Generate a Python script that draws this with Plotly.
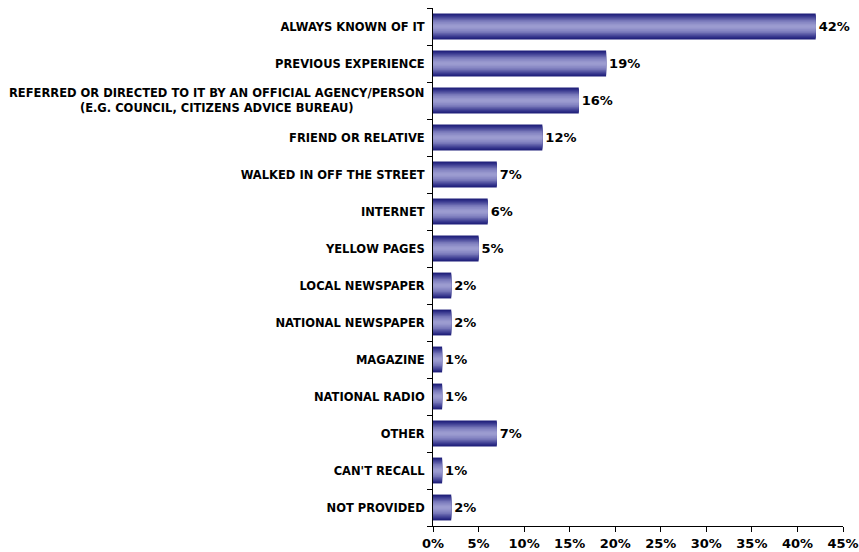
import plotly.graph_objects as go

# How respondents first heard of the service (% of respondents)
categories = [
    "ALWAYS KNOWN OF IT",
    "PREVIOUS EXPERIENCE",
    "REFERRED OR DIRECTED TO IT BY AN OFFICIAL AGENCY/PERSON<br>(E.G. COUNCIL, CITIZENS ADVICE BUREAU)",
    "FRIEND OR RELATIVE",
    "WALKED IN OFF THE STREET",
    "INTERNET",
    "YELLOW PAGES",
    "LOCAL NEWSPAPER",
    "NATIONAL NEWSPAPER",
    "MAGAZINE",
    "NATIONAL RADIO",
    "OTHER",
    "CAN'T RECALL",
    "NOT PROVIDED",
]
values = [42, 19, 16, 12, 7, 6, 5, 2, 2, 1, 1, 7, 1, 2]
x_ticks = [0, 5, 10, 15, 20, 25, 30, 35, 40, 45]

FONT = "DejaVu Sans, Verdana, sans-serif"
LABEL_SIZE = 11.5

# Concentric bands of decreasing thickness give the bars a shaded, cylinder-like look
band_widths = [0.70, 0.63, 0.56, 0.49, 0.42, 0.35, 0.28, 0.21, 0.14, 0.07]
band_colors = ["#20207a", "#2e2e86", "#3f3f93", "#5252a0", "#6464ac",
               "#7575b7", "#8282c0", "#8d8dc7", "#9595cc", "#9c9cd0"]

fig = go.Figure()
for i, (w, c) in enumerate(zip(band_widths, band_colors)):
    fig.add_trace(go.Bar(
        x=values,
        y=categories,
        orientation="h",
        width=w,
        marker=dict(color=c, line=dict(width=0)),
        text=[f"<b>{v}%</b>" for v in values] if i == 0 else None,
        textposition="outside" if i == 0 else "none",
        textfont=dict(family=FONT, size=13, color="#000000"),
        cliponaxis=False,
        hoverinfo="x+y" if i == 0 else "skip",
        showlegend=False,
    ))

# Multi-line category labels are centred line by line, so draw them as annotations
tick_text = []
for c in categories:
    if "<br>" in c:
        tick_text.append("")
        fig.add_annotation(
            x=0, xref="paper", y=c, yref="y",
            xanchor="right", yanchor="middle", xshift=-7,
            text=f"<b>{c}</b>", align="center", showarrow=False,
            font=dict(family=FONT, size=LABEL_SIZE, color="#000000"),
        )
    else:
        tick_text.append(f"<b>{c}</b>")

fig.update_layout(
    barmode="overlay",
    width=859,
    height=552,
    margin=dict(l=433, r=16, t=8, b=26),
    paper_bgcolor="white",
    plot_bgcolor="white",
    font=dict(family=FONT, color="#000000"),
    xaxis=dict(
        range=[0, 45],
        tickvals=x_ticks,
        ticktext=[f"<b>{t}%</b>" for t in x_ticks],
        tickfont=dict(family=FONT, size=13, color="#000000"),
        showgrid=False,
        zeroline=False,
        showline=True,
        linecolor="#000000",
        linewidth=1,
        ticks="outside",
        ticklen=5,
        tickcolor="#000000",
        automargin=False,
    ),
    yaxis=dict(
        type="category",
        categoryorder="array",
        categoryarray=categories,
        autorange="reversed",
        tickvals=categories,
        ticktext=tick_text,
        tickfont=dict(family=FONT, size=LABEL_SIZE, color="#000000"),
        tickson="boundaries",
        ticks="outside",
        ticklen=5,
        tickcolor="#000000",
        showgrid=False,
        showline=True,
        linecolor="#000000",
        linewidth=1,
        ticklabelstandoff=5,
        automargin=False,
    ),
)

fig.write_html("out.html")
